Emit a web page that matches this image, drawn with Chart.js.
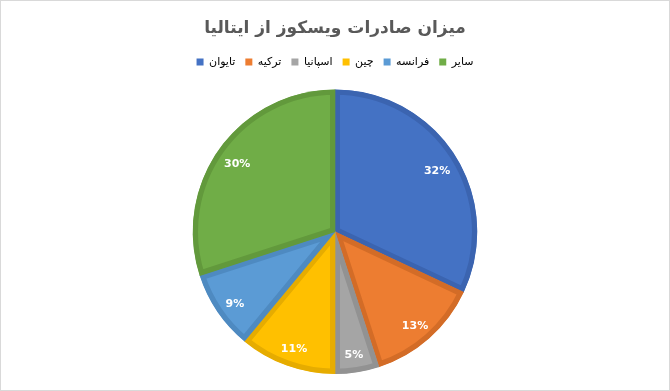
<!DOCTYPE html>
<html>
<head>
<meta charset="utf-8">
<script src="https://cdn.jsdelivr.net/npm/chart.js@4/dist/chart.umd.min.js"></script>
<style>
  html, body { margin: 0; padding: 0; background: #fff; }
  #wrap { position: relative; width: 668px; height: 389px; border: 1px solid #d9d9d9; }
  canvas { display: block; }
</style>
</head>
<body>
<div id="wrap"><canvas id="c" width="668" height="389"></canvas></div>
<script>
// Viscose exports from Italy, share by destination (%)
const categories = ['تایوان', 'ترکیه', 'اسپانیا', 'چین', 'فرانسه', 'سایر'];
const shares = [32, 13, 5, 11, 9, 30];
const fillColors = ['#4472C4', '#ED7D31', '#A5A5A5', '#FFC000', '#5B9BD5', '#70AD47'];
const edgeColors = ['#3B64B0', '#D36C27', '#929292', '#E6AC00', '#4E8AC1', '#62993C'];

const FONT = "'DejaVu Sans', sans-serif";

// White percentage labels placed inside each slice
const sliceLabels = {
  id: 'sliceLabels',
  afterDatasetsDraw(chart) {
    const ctx = chart.ctx;
    const meta = chart.getDatasetMeta(0);
    const data = chart.data.datasets[0].data;
    const total = data.reduce((a, b) => a + b, 0);
    ctx.save();
    ctx.font = "bold 11px " + FONT;
    ctx.fillStyle = '#ffffff';
    ctx.textAlign = 'center';
    ctx.textBaseline = 'middle';
    meta.data.forEach((arc, i) => {
      const p = arc.getProps(['x', 'y', 'startAngle', 'endAngle', 'outerRadius'], true);
      const mid = (p.startAngle + p.endAngle) / 2;
      const r = p.outerRadius * 0.85;
      const pct = Math.round(data[i] / total * 100) + '%';
      ctx.fillText(pct, p.x + Math.cos(mid) * r, p.y + Math.sin(mid) * r + 4);
    });
    ctx.restore();
  }
};

// Extra space between the legend row and the pie
const legendGap = {
  id: 'legendGap',
  afterInit(chart) {
    const legend = chart.legend;
    if (!legend) return;
    const baseFit = legend.fit;
    legend.fit = function () {
      baseFit.call(this);
      this.height += 12;
    };
  }
};

new Chart(document.getElementById('c'), {
  type: 'pie',
  data: {
    labels: categories,
    datasets: [{
      data: shares,
      backgroundColor: fillColors,
      borderColor: edgeColors,
      borderWidth: 5,
      borderAlign: 'inner'
    }]
  },
  options: {
    responsive: false,
    animation: false,
    layout: { padding: { top: 0, bottom: 16, left: 0, right: 0 } },
    plugins: {
      title: {
        display: true,
        text: 'میزان صادرات ویسکوز از ایتالیا',
        color: '#595959',
        font: { family: FONT, size: 17, weight: 'bold' },
        padding: { top: 17, bottom: 8 }
      },
      legend: {
        display: true,
        position: 'top',
        labels: {
          color: '#595959',
          font: { family: FONT, size: 11 },
          boxWidth: 7,
          boxHeight: 7,
          padding: 10,
          generateLabels(chart) {
            return chart.data.labels.map((l, i) => ({
              text: l,
              fillStyle: fillColors[i],
              strokeStyle: fillColors[i],
              lineWidth: 0,
              index: i
            }));
          }
        }
      },
      tooltip: { enabled: false }
    }
  },
  plugins: [sliceLabels, legendGap]
});
</script>
</body>
</html>
